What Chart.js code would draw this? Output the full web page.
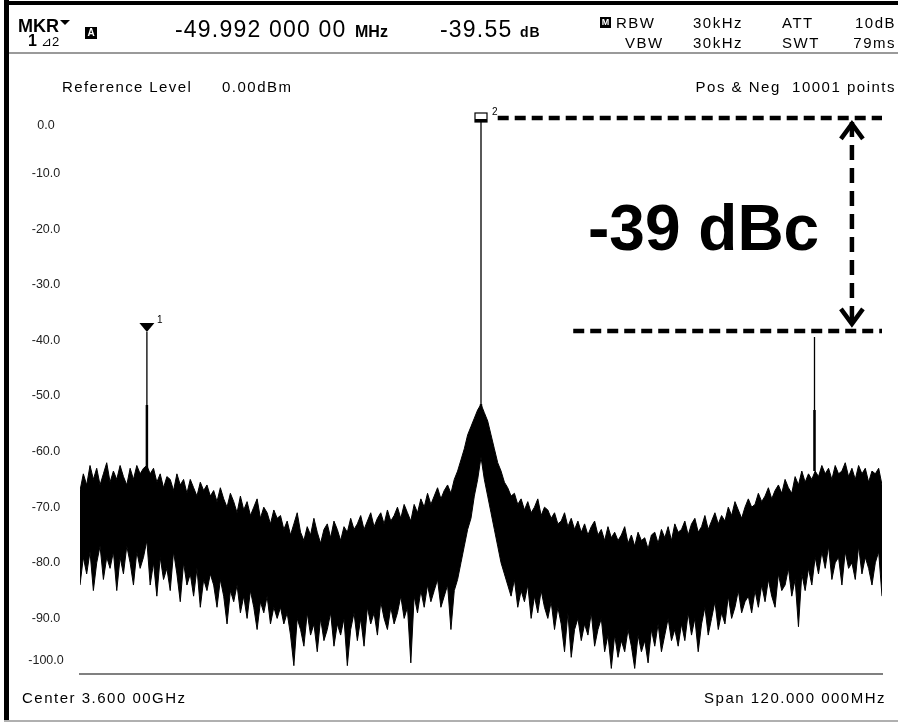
<!DOCTYPE html>
<html>
<head>
<meta charset="utf-8">
<script src="https://cdn.jsdelivr.net/npm/chart.js@4.4.1/dist/chart.umd.min.js"></script>
<style>
    html, body { margin: 0; padding: 0; background: #fff; }
    #screen { position: relative; width: 898px; height: 723px; overflow: hidden; background: #fff;
              font-family: "Liberation Sans", Arial, sans-serif; color: #000; }
    #screen canvas { position: absolute; left: 0; top: 0; }
    .t { position: absolute; white-space: pre; line-height: 1; }
    .hdr { font-size: 15px; letter-spacing: 1.5px; }
    .big { font-size: 23px; letter-spacing: 1.2px; }
    .box { position: absolute; background: #000; color: #fff; font-weight: bold; text-align: center; }
    .bar { position: absolute; }
</style>
</head>
<body>
<div id="screen">
    <canvas id="spectrum" width="898" height="723"></canvas>

    <!-- frame -->
    <div class="bar" style="left:4px; top:0; width:5px; height:721px; background:#000;"></div>
    <div class="bar" style="left:4px; top:1px; width:894px; height:4px; background:#000;"></div>
    <div class="bar" style="left:9px; top:52px; width:889px; height:2px; background:#9a9a9a;"></div>
    <div class="bar" style="left:4px; top:720px; width:894px; height:2px; background:#b0b0b0;"></div>

    <!-- header -->
    <div class="t" style="left:18px; top:17px; font-size:18px; font-weight:bold;">MKR</div>
    <div class="bar" style="left:60px; top:20px; width:0; height:0; border-left:5px solid transparent; border-right:5px solid transparent; border-top:5px solid #000;"></div>
    <div class="t" style="left:28px; top:32.5px; font-size:16px; font-weight:bold;">1</div>
    <div class="t" style="left:41px; top:35px; font-size:13px;">⊿2</div>
    <div class="box" style="left:85px; top:27px; width:12px; height:12px; font-size:10px; line-height:12px;">A</div>

    <div class="t big" style="left:175px; top:17.5px;">-49.992 000 00</div>
    <div class="t" style="left:355px; top:23.5px; font-size:16px; font-weight:bold;">MHz</div>
    <div class="t big" style="left:440px; top:17.5px;">-39.55</div>
    <div class="t" style="left:520px; top:25px; font-size:14px; font-weight:bold; letter-spacing:1px;">dB</div>

    <div class="box" style="left:600px; top:17px; width:11px; height:11px; font-size:9px; line-height:11px;">M</div>
    <div class="t hdr" style="left:616px; top:15.3px;">RBW</div>
    <div class="t hdr" style="left:625px; top:35.3px;">VBW</div>
    <div class="t hdr" style="left:693px; top:15.3px;">30kHz</div>
    <div class="t hdr" style="left:693px; top:35.3px;">30kHz</div>
    <div class="t hdr" style="left:782px; top:15.3px;">ATT</div>
    <div class="t hdr" style="left:782px; top:35.3px;">SWT</div>
    <div class="t hdr" style="right:2px; top:15.3px;">10dB</div>
    <div class="t hdr" style="right:2px; top:35.3px;">79ms</div>

    <div class="t hdr" style="left:62px; top:79.3px; letter-spacing:1.4px;">Reference Level</div>
    <div class="t hdr" style="left:222px; top:79.3px;">0.00dBm</div>
    <div class="t hdr" style="right:2px; top:79.3px;">Pos &amp; Neg  10001 points</div>

    <!-- footer -->
    <div class="t hdr" style="left:22px; top:690.3px;">Center 3.600 00GHz</div>
    <div class="t hdr" style="right:12px; top:690.3px;">Span 120.000 000MHz</div>

    <!-- annotation -->
    <div class="t" style="left:588px; top:196px; font-size:64px; font-weight:bold;">-39 dBc</div>
</div>

<script>
// frequency offset from center (MHz), one display bucket per 0.5 MHz
const freqMHz = [
    -60, -59.5, -59, -58.5, -58, -57.5, -57, -56.5, -56, -55.5, -55, -54.5, -54, -53.5, -53, -52.5, -52, -51.5, -51, -50.5,
    -50, -49.5, -49, -48.5, -48, -47.5, -47, -46.5, -46, -45.5, -45, -44.5, -44, -43.5, -43, -42.5, -42, -41.5, -41, -40.5,
    -40, -39.5, -39, -38.5, -38, -37.5, -37, -36.5, -36, -35.5, -35, -34.5, -34, -33.5, -33, -32.5, -32, -31.5, -31, -30.5,
    -30, -29.5, -29, -28.5, -28, -27.5, -27, -26.5, -26, -25.5, -25, -24.5, -24, -23.5, -23, -22.5, -22, -21.5, -21, -20.5,
    -20, -19.5, -19, -18.5, -18, -17.5, -17, -16.5, -16, -15.5, -15, -14.5, -14, -13.5, -13, -12.5, -12, -11.5, -11, -10.5,
    -10, -9.5, -9, -8.5, -8, -7.5, -7, -6.5, -6, -5.5, -5, -4.5, -4, -3.5, -3, -2.5, -2, -1.5, -1, -0.5,
    0, 0.5, 1, 1.5, 2, 2.5, 3, 3.5, 4, 4.5, 5, 5.5, 6, 6.5, 7, 7.5, 8, 8.5, 9, 9.5,
    10, 10.5, 11, 11.5, 12, 12.5, 13, 13.5, 14, 14.5, 15, 15.5, 16, 16.5, 17, 17.5, 18, 18.5, 19, 19.5,
    20, 20.5, 21, 21.5, 22, 22.5, 23, 23.5, 24, 24.5, 25, 25.5, 26, 26.5, 27, 27.5, 28, 28.5, 29, 29.5,
    30, 30.5, 31, 31.5, 32, 32.5, 33, 33.5, 34, 34.5, 35, 35.5, 36, 36.5, 37, 37.5, 38, 38.5, 39, 39.5,
    40, 40.5, 41, 41.5, 42, 42.5, 43, 43.5, 44, 44.5, 45, 45.5, 46, 46.5, 47, 47.5, 48, 48.5, 49, 49.5,
    50, 50.5, 51, 51.5, 52, 52.5, 53, 53.5, 54, 54.5, 55, 55.5, 56, 56.5, 57, 57.5, 58, 58.5, 59, 59.5, 60
];

// positive peak detector (dBm)
const posPeak = [
    -67, -64, -66, -62.5, -65, -63, -66, -64, -62, -65.5, -63.5, -65, -62.5, -64.5, -66, -63, -65, -62.5, -64, -63,
    -62.5, -64, -63, -65.5, -64, -66.5, -64.5, -65, -67, -64, -66, -65, -67.5, -65, -66.5, -68, -65.5, -67, -66, -68,
    -67, -69, -66.5, -68.5, -70, -67.5, -69, -71, -68, -70.5, -69, -71.5, -70, -68.5, -72, -70, -71, -73, -70.5, -72,
    -71.5, -74, -72.5, -75, -73, -71, -74.5, -76, -73.5, -75, -72, -74.5, -76.5, -74, -73, -75.5, -72.5, -74, -76, -73.5,
    -74.5, -72, -74, -73, -71.5, -74, -72.5, -71, -73.5, -72, -71, -73, -70.5, -72.5, -71.5, -70, -72, -69.5, -71, -72.5,
    -69.5, -71, -68.5, -70, -67.5, -69.5, -68, -66.5, -68.5, -67, -66, -67.5, -65, -63.5, -61.5, -59.5, -57, -55.5, -54, -52.5,
    -51.5, -53, -54.5, -57, -59.5, -62, -63.5, -65.5, -66.5, -68, -67.5, -69.5, -68.5, -70.5, -69, -71, -70, -68.5, -71.5, -70,
    -70.5, -72, -71, -73, -72.5, -71, -73.5, -72, -74, -72.5, -74.5, -73, -75, -73.5, -72.5, -75, -74, -76, -73.5, -75.5,
    -74.5, -76, -75, -73.5, -76.5, -75, -77, -74.5, -76, -75.5, -77.5, -75, -74.5, -76.5, -74, -75.5, -73.5, -76, -73, -74.5,
    -74, -72.5, -75, -73, -72, -74.5, -73.5, -71.5, -74, -72.5, -71, -73, -71.5, -72.5, -70, -71.5, -69, -70.5, -72, -70,
    -68.5, -70, -69.5, -67.5, -69, -68, -66.5, -68.5, -67, -66, -67.5, -65, -66.5, -67.5, -64.5, -66, -63.5, -65.5, -64, -65,
    -63.5, -64.5, -62.5, -64, -63, -65, -62.5, -64, -63.5, -62, -64.5, -63, -65, -62.5, -64, -63, -65.5, -63.5, -64, -63, -66
];

// negative peak detector (dBm)
const negPeak = [
    -84, -79, -82, -78, -85, -80, -77, -83, -79, -81, -78, -85, -79, -82, -77, -80, -84, -78, -81, -79,
    -76, -84, -80, -86, -79, -83, -81, -85, -78, -82, -87, -80, -84, -82, -86, -81, -88, -83, -85, -82,
    -84, -88, -83, -86, -91, -85, -87, -84, -89, -86, -90, -85, -88, -92, -87, -89, -86, -91, -88, -90,
    -88, -91, -89, -93, -98.5, -90, -92, -95, -89, -93, -91, -96, -90, -94, -92, -89, -95, -91, -93, -90,
    -98.5, -92, -89, -94, -90, -95, -88, -91, -89, -93, -87, -90, -92, -88, -91, -89, -86, -90, -88, -98,
    -86, -89, -85, -88, -84, -87, -85, -83, -88, -86, -84, -92, -85, -83, -80, -77, -74, -72, -68, -65,
    -61, -65, -68, -71, -74, -77, -80, -82, -84, -86, -83, -88, -85, -87, -84, -90, -86, -89, -85, -88,
    -90, -87, -92, -88, -91, -96, -89, -97, -92, -90, -94, -91, -93, -89, -95, -92, -90, -96, -93, -99,
    -93, -97, -94, -96, -92, -95, -99, -93, -96, -94, -98, -92, -95, -91, -96, -93, -90, -94, -92, -95,
    -91, -94, -89, -93, -90, -96, -91, -88, -93, -90, -87, -92, -89, -91, -86, -90, -88, -85, -89, -87,
    -86, -89, -85, -88, -84, -87, -83, -86, -88, -82, -85, -84, -81, -86, -83, -91.5, -82, -85, -81, -84,
    -79, -82, -78, -81, -77, -83, -80, -79, -84, -78, -81, -80, -83, -77, -82, -79, -81, -84, -80, -78, -86
];

// discrete signals: carrier at center, spurs at +/-50 MHz
const spurFreq = [-49.99, 0, 49.9];
const spurPeak = [-38.5, 0, -39.4];
const spurKnee = [-51.6, -51.5, -52.5];
const spurBase = [-63, -52, -63.5];

// markers
const markerFreq = [-49.99, 0];
const markerLevel = [-38.5, 0];
const markerLabels = ['1', '2'];

// y axis labels
const yTickValues = [0, -10, -20, -30, -40, -50, -60, -70, -80, -90, -100];
const yTickLabels = ['0.0', '-10.0', '-20.0', '-30.0', '-40.0', '-50.0', '-60.0', '-70.0', '-80.0', '-90.0', '-100.0'];

// dBc annotation
const carrierLine = [2.5, 60];
const spurLine = [13.8, 60];
const carrierLevel = 0;
const spurLevel = -38.3;
const arrowFreq = 55.5;
const arrowTop = -0.7;
const arrowBottom = -37.4;

const toPoints = (xs, ys) => xs.map((x, i) => ({ x: x, y: ys[i] }));

const datasets = [
    { data: toPoints(freqMHz, posPeak), borderColor: '#000', borderWidth: 1, fill: false },
    { data: toPoints(freqMHz, negPeak), borderColor: '#000', borderWidth: 1, fill: '-1', backgroundColor: '#000' }
];

spurFreq.forEach((f, i) => {
    datasets.push({ data: [{ x: f, y: spurPeak[i] }, { x: f, y: spurBase[i] }], borderColor: '#000', borderWidth: 1.3 });
    datasets.push({ data: [{ x: f, y: spurKnee[i] }, { x: f, y: spurBase[i] }], borderColor: '#000', borderWidth: 2.5 });
});

const dashStyle = { borderColor: '#000', borderWidth: 4.5, borderCapStyle: 'butt', clip: false };
datasets.push(Object.assign({ data: [{ x: carrierLine[0], y: carrierLevel }, { x: carrierLine[1], y: carrierLevel }], borderDash: [11, 6] }, dashStyle));
datasets.push(Object.assign({ data: [{ x: spurLine[0], y: spurLevel }, { x: spurLine[1], y: spurLevel }], borderDash: [11, 6] }, dashStyle));
datasets.push(Object.assign({ data: [{ x: arrowFreq, y: arrowTop }, { x: arrowFreq, y: arrowBottom }], borderDash: [15, 8] }, dashStyle));

// marker glyphs, arrow heads and level labels
const overlayPlugin = {
    id: 'overlay',
    afterDatasetsDraw(chart) {
        const ctx = chart.ctx;
        const xs = chart.scales.x;
        const ys = chart.scales.y;
        const area = chart.chartArea;
        ctx.save();

        // marker 1: filled triangle with tip on the peak
        let px = xs.getPixelForValue(markerFreq[0]);
        let py = ys.getPixelForValue(markerLevel[0]);
        ctx.fillStyle = '#000';
        ctx.beginPath();
        ctx.moveTo(px - 7.5, py - 9);
        ctx.lineTo(px + 7.5, py - 9);
        ctx.lineTo(px, py);
        ctx.closePath();
        ctx.fill();
        ctx.font = '10px "Liberation Sans", Arial, sans-serif';
        ctx.textBaseline = 'alphabetic';
        ctx.fillText(markerLabels[0], px + 10, py - 9);

        // marker 2: small box
        px = xs.getPixelForValue(markerFreq[1]);
        py = ys.getPixelForValue(markerLevel[1]);
        ctx.strokeStyle = '#000';
        ctx.lineWidth = 1.2;
        ctx.fillStyle = '#fff';
        ctx.fillRect(px - 6, py - 5, 12, 9);
        ctx.strokeRect(px - 6, py - 5, 12, 9);
        ctx.fillStyle = '#000';
        ctx.fillRect(px - 6, py + 1, 12, 3);
        ctx.fillText(markerLabels[1], px + 11, py - 3);

        // arrow heads
        const ax = xs.getPixelForValue(arrowFreq);
        const at = ys.getPixelForValue(arrowTop);
        const ab = ys.getPixelForValue(arrowBottom);
        ctx.lineWidth = 4.5;
        ctx.lineJoin = 'miter';
        ctx.beginPath();
        ctx.moveTo(ax - 11, at + 17);
        ctx.lineTo(ax, at + 2);
        ctx.lineTo(ax + 11, at + 17);
        ctx.moveTo(ax - 11, ab - 17);
        ctx.lineTo(ax, ab - 2);
        ctx.lineTo(ax + 11, ab - 17);
        ctx.stroke();

        // level labels, kept inside the graticule at the ends
        ctx.font = '12.5px "Liberation Sans", Arial, sans-serif';
        ctx.fillStyle = '#222';
        ctx.textAlign = 'center';
        ctx.textBaseline = 'middle';
        yTickValues.forEach((v, i) => {
            let y = ys.getPixelForValue(v);
            y = Math.min(Math.max(y, area.top + 8), area.bottom - 13);
            ctx.fillText(yTickLabels[i], 46, y);
        });
        ctx.restore();
    }
};

new Chart(document.getElementById('spectrum'), {
    type: 'line',
    data: { datasets: datasets },
    options: {
        responsive: false,
        animation: false,
        parsing: false,
        elements: { point: { radius: 0 }, line: { tension: 0 } },
        layout: { padding: { left: 80, right: 16, top: 118, bottom: 49 } },
        plugins: { legend: { display: false }, tooltip: { enabled: false } },
        scales: {
            x: {
                type: 'linear', min: -60, max: 60,
                grid: { display: false, drawTicks: false },
                ticks: { display: false },
                border: { display: true, color: '#808080', width: 2 }
            },
            y: { type: 'linear', min: -100, max: 0, display: false }
        }
    },
    plugins: [overlayPlugin]
});
</script>
</body>
</html>
